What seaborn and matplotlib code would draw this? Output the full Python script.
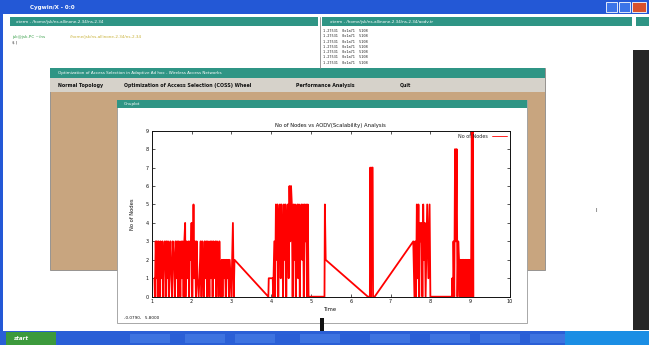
import matplotlib
matplotlib.use("Agg")
import matplotlib.pyplot as plt
from matplotlib.patches import Rectangle
import pandas as pd
import seaborn as sns

sns.set_theme(style="white")
plt.rcParams["font.family"] = ["DejaVu Sans"]

# node count log (time, nodes)
time_burst1 = [1.07, 1.08, 1.10, 1.12, 1.13, 1.15, 1.17, 1.19, 1.20, 1.22, 1.25, 1.27, 1.28, 1.30,
               1.33, 1.35, 1.37, 1.38, 1.41, 1.43, 1.45, 1.47, 1.49, 1.51, 1.53, 1.56, 1.58, 1.60,
               1.62, 1.64, 1.66, 1.68, 1.70, 1.72, 1.74, 1.76, 1.78, 1.80, 1.82, 1.84, 1.85, 1.87,
               1.90, 1.92, 1.94, 1.96, 1.98, 2.00, 2.02, 2.04, 2.05, 2.07, 2.09, 2.11, 2.13, 2.15,
               2.18, 2.20, 2.23, 2.25, 2.27, 2.29, 2.31, 2.33, 2.35, 2.37, 2.39, 2.41, 2.43, 2.45,
               2.47, 2.49, 2.51, 2.53, 2.55, 2.57, 2.60, 2.62, 2.64, 2.66, 2.68, 2.70, 2.72, 2.74,
               2.76, 2.78, 2.80, 2.82, 2.84, 2.86, 2.88, 2.90, 2.92, 2.94, 2.96, 2.98, 3.00, 3.02,
               3.04, 3.06, 3.08]
nodes_burst1 = [1, 0, 3, 1, 3, 0, 3, 2, 0, 3, 1, 3, 0, 2,
                3, 0, 3, 1, 3, 0, 2, 3, 1, 0, 3, 2, 0, 3,
                1, 3, 0, 3, 2, 0, 3, 1, 3, 0, 3, 4, 0, 3,
                1, 3, 0, 3, 2, 4, 0, 3, 5, 1, 3, 0, 3, 1,
                0, 1, 3, 0, 3, 2, 0, 3, 1, 3, 0, 3, 2, 0,
                3, 1, 3, 0, 3, 1, 3, 0, 3, 2, 0, 3, 1, 0,
                2, 0, 2, 1, 2, 0, 2, 1, 2, 0, 2, 1, 0, 2,
                4, 0, 2]

time_burst2 = [3.93, 3.94, 4.04, 4.05, 4.08, 4.10, 4.12, 4.14, 4.16, 4.18, 4.20, 4.22, 4.24, 4.26,
               4.28, 4.30, 4.32, 4.34, 4.36, 4.38, 4.40, 4.42, 4.44, 4.46, 4.48, 4.50, 4.52, 4.54,
               4.56, 4.58, 4.60, 4.62, 4.64, 4.66, 4.68, 4.70, 4.72, 4.74, 4.76, 4.78, 4.80, 4.82,
               4.84, 4.86, 4.88, 4.90, 4.92, 4.94, 5.34, 5.35, 5.37]
nodes_burst2 = [0, 1, 1, 0, 3, 0, 5, 2, 5, 0, 4, 5, 1, 5,
                3, 0, 5, 2, 5, 0, 4, 5, 1, 6, 3, 6, 5, 0,
                5, 2, 5, 0, 3, 5, 1, 5, 0, 4, 5, 2, 5, 0,
                5, 3, 5, 0, 5, 0, 0, 5, 2]

time_burst3 = [6.43, 6.48, 6.49, 6.51, 6.53, 6.55, 6.56, 6.60]
nodes_burst3 = [0, 0, 7, 0, 7, 7, 0, 0]

time_burst4 = [7.57, 7.60, 7.62, 7.64, 7.66, 7.68, 7.70, 7.72, 7.74, 7.76, 7.78, 7.80, 7.82, 7.84,
               7.86, 7.88, 7.92, 7.95, 7.98, 8.00, 8.54]
nodes_burst4 = [3, 0, 3, 0, 5, 1, 5, 0, 4, 3, 4, 0, 5, 2,
                4, 0, 5, 1, 5, 0, 0]

time_burst5 = [8.55, 8.57, 8.58, 8.60, 8.62, 8.64, 8.66, 8.68, 8.70, 8.72, 8.74, 8.76, 8.78, 8.80,
               8.82, 8.84, 8.86, 8.88, 8.90, 8.92, 8.94, 8.96, 8.98, 9.00, 9.02, 9.04, 9.06, 9.07,
               9.08]
nodes_burst5 = [1, 0, 3, 0, 8, 3, 8, 0, 3, 2, 0, 2, 0, 2,
                0, 2, 0, 2, 0, 2, 0, 2, 0, 2, 0, 9, 0, 9,
                0]

x_ticks = [1, 2, 3, 4, 5, 6, 7, 8, 9, 10]
y_ticks = [0, 1, 2, 3, 4, 5, 6, 7, 8, 9]

df = pd.DataFrame({
    "Time": time_burst1 + time_burst2 + time_burst3 + time_burst4 + time_burst5,
    "Nodes": nodes_burst1 + nodes_burst2 + nodes_burst3 + nodes_burst4 + nodes_burst5,
})

W, H = 649, 345
fig = plt.figure(figsize=(W / 100, H / 100), dpi=100)
fig.patch.set_facecolor("white")

# desktop / window chrome, drawn in pixel coords
bg = fig.add_axes([0, 0, 1, 1])
bg.set_xlim(0, W)
bg.set_ylim(H, 0)
bg.axis("off")


def box(x, y, w, h, color, **kw):
    bg.add_patch(Rectangle((x, y), w, h, facecolor=color, edgecolor=kw.pop("ec", "none"),
                           lw=kw.pop("lw", 0.6), **kw))


teal = "#2f9585"
box(0, 0, W, 14, "#2358d6")
bg.text(30, 7, "Cygwin/X - 0:0", color="white", fontsize=4, va="center", weight="bold")
box(606, 2, 11, 10, "#3b74e8", ec="white")
box(619, 2, 11, 10, "#3b74e8", ec="white")
box(632, 2, 14, 10, "#d9512c", ec="white")
box(0, 14, 3, 317, "#2358d6")

box(10, 17, 308, 9, teal)
box(322, 17, 310, 9, teal)
box(636, 17, 13, 9, teal)
bg.text(16, 21.5, "xterm - /home/jsk/ns-allinone-2.34/ns-2.34", color="white", fontsize=3, va="center")
bg.text(330, 21.5, "xterm - /home/jsk/ns-allinone-2.34/ns-2.34/aodv.tr", color="white", fontsize=3, va="center")
bg.plot([320, 320], [17, 68], color="#888888", lw=0.6)
for i in range(7):
    bg.text(323, 31 + i * 5.3, "1.27531  0x1a71  5108", color="#222222", fontsize=2.6,
            va="center", family="DejaVu Sans Mono")
bg.text(12, 37, "jsk@jsk-PC ~/ns", color="#3aa04a", fontsize=3, va="center")
bg.text(70, 37, "/home/jsk/ns-allinone-2.34/ns-2.34", color="#c9b23a", fontsize=3, va="center")
bg.text(12, 43, "$ |", color="#333333", fontsize=3, va="center")

box(633, 50, 16, 280, "#262626")
bg.text(596, 211, "I", color="#333333", fontsize=4, va="center")

# application window with menu
box(50, 68, 495, 202, "#c8a57f", ec="#8a8a8a")
box(50, 68, 495, 10, teal)
bg.text(58, 73, "Optimization of Access Selection in Adaptive Ad hoc - Wireless Access Networks",
        color="white", fontsize=3, va="center")
box(50, 78, 495, 14, "#d6d2ca")
for xm, label in [(58, "Normal Topology"), (124, "Optimization of Access Selection (COSS) Wheel"),
                  (296, "Performance Analysis"), (400, "Quit")]:
    bg.text(xm, 85, label, color="#111111", fontsize=3.4, va="center", weight="bold")

# gnuplot window
box(117, 100, 410, 223, "white", ec="#9a9a9a")
box(117, 100, 410, 8, teal)
bg.text(124, 104, "Gnuplot", color="white", fontsize=3, va="center")
bg.text(124, 318, "-0.0790,   5.8000", color="#111111", fontsize=3, va="center")
box(320, 318, 4, 13, "#111111")

# taskbar
box(0, 331, W, 14, "#2a5fd6")
box(6, 332, 50, 13, "#3c9a3c")
bg.text(14, 338.5, "start", color="white", fontsize=4, va="center", weight="bold", style="italic")
for xb in [130, 185, 235, 300, 370, 430, 480, 530]:
    box(xb, 334, 40, 9, "#3d73e0")
box(565, 331, 84, 14, "#1b8ee4")

# the chart itself
left, right, top, bottom = 151.7, 510.0, 130.7, 296.7
ax = fig.add_axes([left / W, (H - bottom) / H, (right - left) / W, (bottom - top) / H])
sns.lineplot(data=df, x="Time", y="Nodes", sort=False, estimator=None, ax=ax,
             color="#ff0000", lw=1.3, label="No of Nodes")
ax.set_xlim(1, 10)
ax.set_ylim(0, 9)
ax.set_xticks(x_ticks)
ax.set_yticks(y_ticks)
ax.tick_params(direction="in", length=2, width=0.5, labelsize=3.5, pad=2,
               top=True, right=True, bottom=True, left=True, colors="#111111")
for sp in ax.spines.values():
    sp.set_color("#111111")
    sp.set_linewidth(0.7)
ax.set_title("No of Nodes vs AODV(Scalability) Analysis", fontsize=3.8, pad=3, color="#111111")
ax.set_xlabel("Time", fontsize=3.8, labelpad=2, color="#111111")
ax.set_ylabel("No of Nodes", fontsize=3.8, labelpad=8, color="#111111")
leg = ax.legend(loc="upper right", frameon=False, fontsize=3.5, markerfirst=False,
                handlelength=3, borderaxespad=0.3)
for line in leg.get_lines():
    line.set_linewidth(0.6)

fig.savefig("out.png", dpi=100)
